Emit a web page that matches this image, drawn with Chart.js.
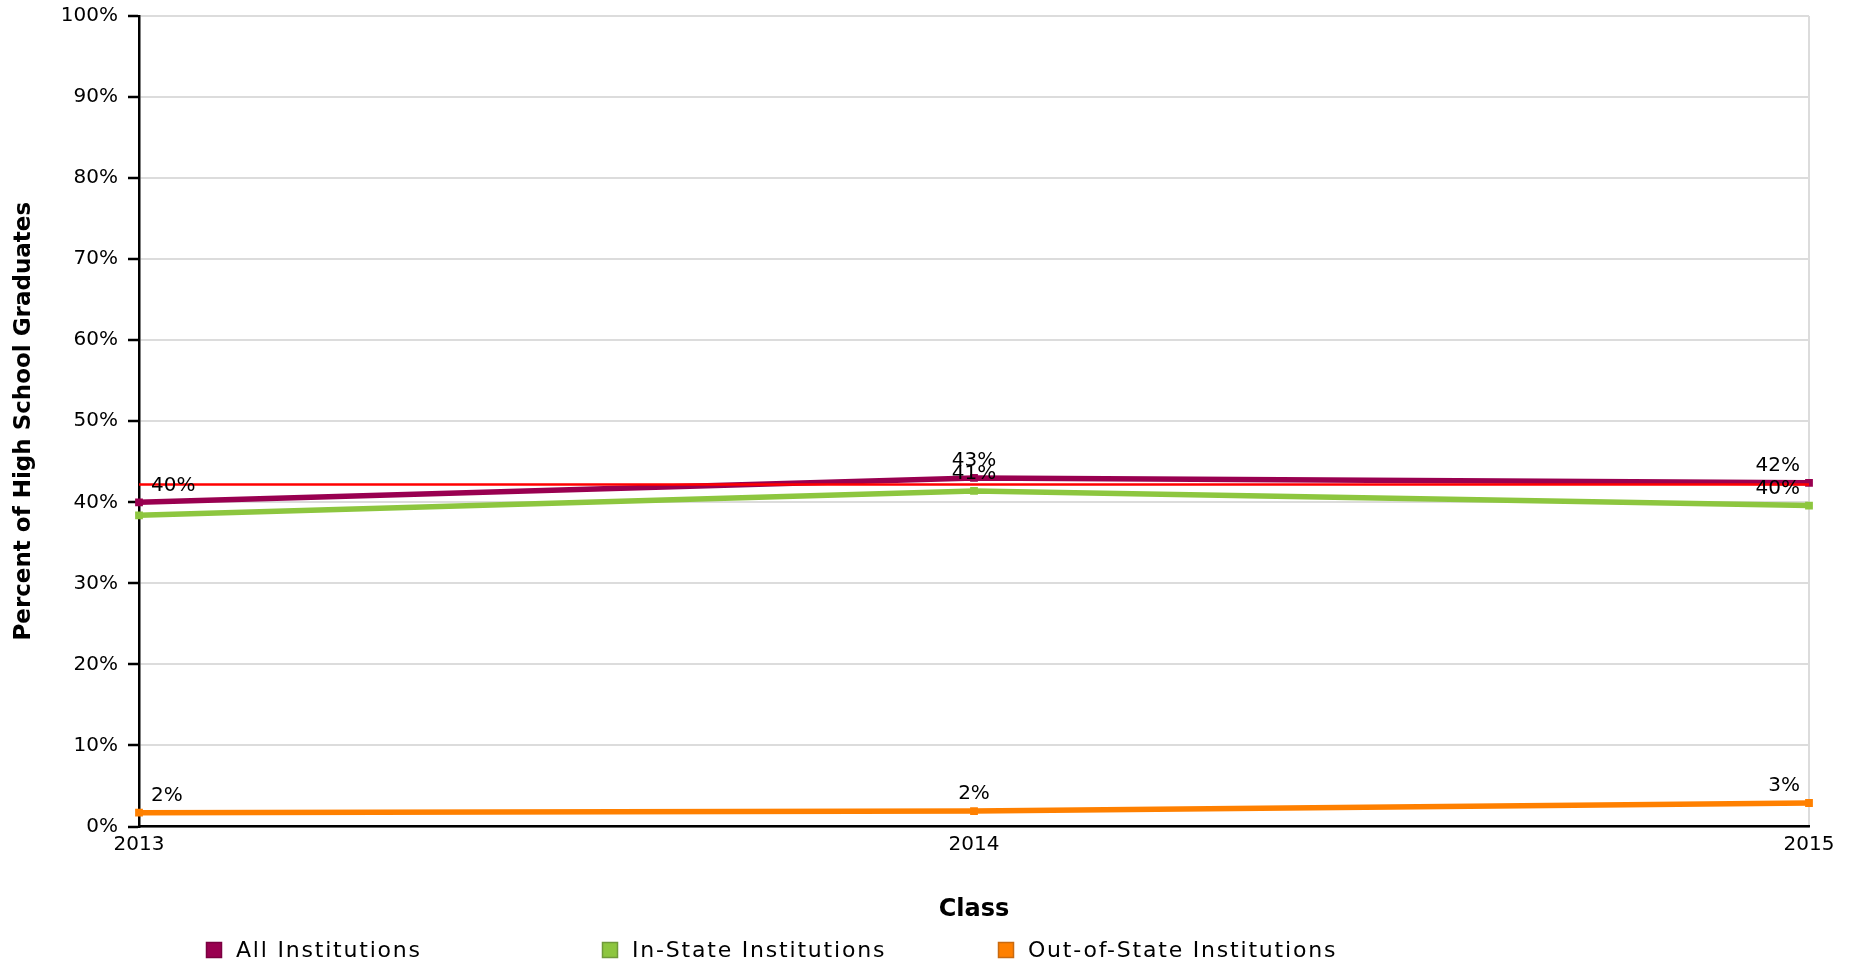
<!DOCTYPE html>
<html>
<head>
<meta charset="utf-8">
<style>
  html, body { margin: 0; padding: 0; background: #fff; }
  #wrap { position: relative; width: 1860px; height: 966px; }
</style>
<script src="https://cdn.jsdelivr.net/npm/chart.js@4.4.1/dist/chart.umd.min.js"></script>
</head>
<body>
<div id="wrap"><canvas id="chart"></canvas></div>
<script>
// ── Data ────────────────────────────────────────────────────────────────────
const CLASS_YEARS      = ['2013', '2014', '2015'];
const ALL_INSTITUTIONS = [40.0, 43.0, 42.4];
const IN_STATE         = [38.4, 41.4, 39.6];
const OUT_OF_STATE     = [1.7, 1.9, 2.9];
const REFERENCE_LINE   = [42.2, 42.2, 42.2];

const SERIES_NAMES  = ['All Institutions', 'In-State Institutions', 'Out-of-State Institutions'];
const SERIES_COLORS = ['#990050', '#8dc63f', '#ff8000'];
const SERIES_EDGES  = ['#7a0040', '#6f9a3a', '#c86a10'];
const HIDDEN_LABELS = [[], [0], []];   // point labels not shown in the source

const FONT = '"DejaVu Sans", Verdana, sans-serif';
Chart.defaults.font.family = FONT;
Chart.defaults.color = '#000';

// ── Plugins ─────────────────────────────────────────────────────────────────
const valueLabels = {
  id: 'valueLabels',
  afterDatasetsDraw(chart) {
    const ctx = chart.ctx;
    ctx.save();
    ctx.font = '20px ' + FONT;
    ctx.fillStyle = '#000';
    ctx.textBaseline = 'middle';
    chart.data.datasets.forEach((ds, di) => {
      if (ds.seriesIdx == null) return;
      const meta = chart.getDatasetMeta(di);
      const last = meta.data.length - 1;
      meta.data.forEach((pt, i) => {
        if (HIDDEN_LABELS[ds.seriesIdx].includes(i)) return;
        let x = pt.x;
        if (i === 0)         { ctx.textAlign = 'left';  x += 12; }
        else if (i === last) { ctx.textAlign = 'right'; x -= 9; }
        else                 { ctx.textAlign = 'center'; }
        ctx.fillText(Math.round(ds.data[i]) + '%', x, pt.y - 17);
      });
    });
    ctx.restore();
  }
};

const columnLegend = {
  id: 'columnLegend',
  afterDraw(chart) {
    const ctx = chart.ctx;
    ctx.save();
    ctx.font = '22px ' + FONT;
    ctx.letterSpacing = '1.8px';
    ctx.textBaseline = 'middle';
    ctx.textAlign = 'left';
    SERIES_NAMES.forEach((name, i) => {
      const x = 206 + i * 396;
      const y = 950;
      ctx.fillStyle = SERIES_COLORS[i];
      ctx.fillRect(x, y - 8, 16, 16);
      ctx.strokeStyle = SERIES_EDGES[i];
      ctx.lineWidth = 1.5;
      ctx.strokeRect(x + 0.5, y - 7.5, 15, 15);
      ctx.fillStyle = '#000';
      ctx.fillText(name, x + 30, y + 1);
    });
    ctx.restore();
  }
};

// ── Chart ───────────────────────────────────────────────────────────────────
function series(idx, values, order) {
  return {
    label: SERIES_NAMES[idx],
    seriesIdx: idx,
    data: values,
    borderColor: SERIES_COLORS[idx],
    backgroundColor: SERIES_COLORS[idx],
    borderWidth: 5.5,
    pointStyle: 'rect',
    pointRadius: 5.5,
    pointBorderWidth: 0,
    tension: 0,
    fill: false,
    order
  };
}

new Chart(document.getElementById('chart'), {
  type: 'line',
  data: {
    labels: CLASS_YEARS,
    datasets: [
      {
        label: 'Reference',
        data: REFERENCE_LINE,
        borderColor: '#ff0000',
        borderWidth: 2.5,
        pointRadius: 0,
        fill: false,
        order: 0
      },
      series(0, ALL_INSTITUTIONS, 1),
      series(1, IN_STATE, 2),
      series(2, OUT_OF_STATE, 3)
    ]
  },
  options: {
    responsive: true,
    maintainAspectRatio: false,
    animation: false,
    layout: { padding: { top: 16, right: 51, bottom: 0, left: 0 } },
    scales: {
      x: {
        offset: false,
        afterFit: (s) => { s.height = 139.5; },
        ticks: { font: { size: 20 }, color: '#000', padding: 6, maxRotation: 0 },
        grid: {
          drawTicks: false,
          lineWidth: 2,
          color: (c) => c.index === CLASS_YEARS.length - 1 ? '#dcdcdc' : 'rgba(0,0,0,0)'
        },
        border: { display: true, color: '#000', width: 2.5 },
        title: {
          display: true,
          text: 'Class',
          font: { size: 24, weight: 'bold' },
          padding: { top: 0, bottom: 42 }
        }
      },
      y: {
        min: 0,
        max: 100,
        afterFit: (s) => { s.width = 139; s.paddingTop = 0; },
        ticks: {
          stepSize: 10,
          font: { size: 20 },
          color: '#000',
          padding: 10,
          callback: (v) => v + '%'
        },
        grid: {
          color: '#dcdcdc',
          lineWidth: 2,
          tickColor: '#000',
          tickLength: 11,
          tickWidth: 2.5
        },
        border: { display: true, color: '#000', width: 2.5 },
        title: {
          display: true,
          text: 'Percent of High School Graduates',
          font: { size: 23, weight: 'bold' },
          padding: { top: 10, bottom: 0 }
        }
      }
    },
    plugins: {
      legend: { display: false },
      tooltip: { enabled: false }
    }
  },
  plugins: [valueLabels, columnLegend]
});
</script>
</body>
</html>
